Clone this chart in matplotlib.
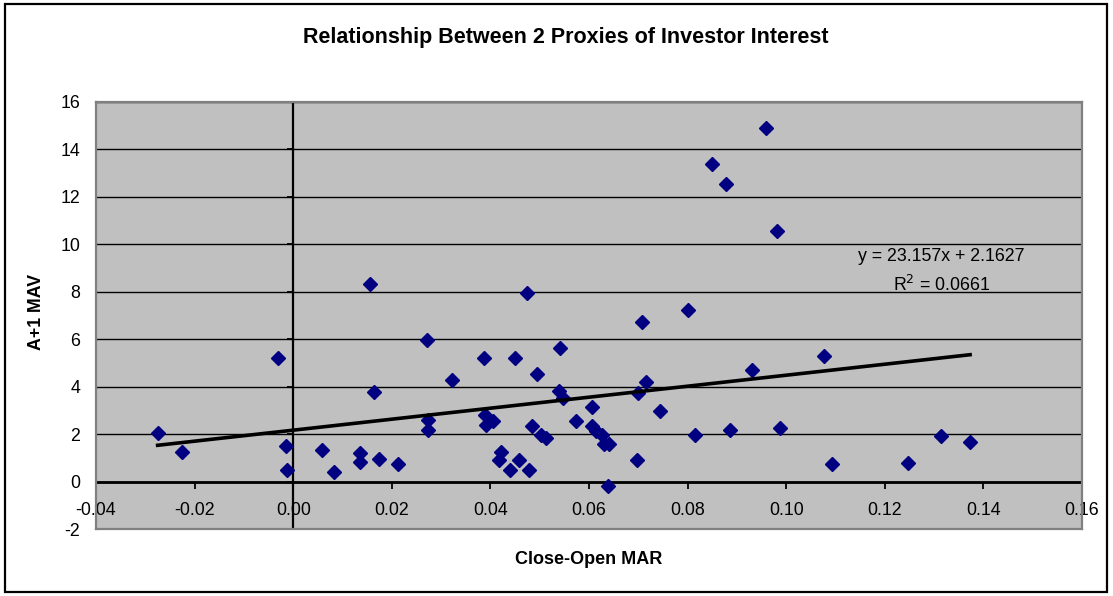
import matplotlib
matplotlib.use('Agg')
import matplotlib.pyplot as plt
from matplotlib.ticker import FormatStrFormatter
from matplotlib.patches import Rectangle

plt.rcParams['font.family'] = ['Liberation Sans', 'DejaVu Sans']
plt.rcParams['axes.unicode_minus'] = False

# close-open MAR vs A+1 MAV
close_open_mar = [
    -0.0275, -0.0226, -0.0031, -0.0015, -0.0013, 0.0058, 0.0083, 0.0135,
    0.0135, 0.0175, 0.0213, 0.0156, 0.0164, 0.0271, 0.0322, 0.0273,
    0.0273, 0.0388, 0.0390, 0.0392, 0.0405, 0.0422, 0.0417, 0.0440,
    0.0457, 0.0478, 0.0449, 0.0474, 0.0494, 0.0484, 0.0503, 0.0513,
    0.0542, 0.0540, 0.0548, 0.0574, 0.0606, 0.0606, 0.0615, 0.0626,
    0.0631, 0.0640, 0.0639, 0.0697, 0.0699, 0.0716, 0.0708, 0.0745,
    0.0801, 0.0814, 0.0849, 0.0878, 0.0887, 0.0960, 0.0981, 0.0931,
    0.0988, 0.1077, 0.1093, 0.1248, 0.1313, 0.1373,
]
a1_mav = [
    2.04, 1.24, 5.22, 1.50, 0.49, 1.33, 0.42, 1.19,
    0.84, 0.94, 0.72, 8.34, 3.78, 5.98, 4.29, 2.60,
    2.18, 5.22, 2.81, 2.39, 2.53, 1.26, 0.91, 0.49,
    0.91, 0.49, 5.22, 7.93, 4.53, 2.35, 1.97, 1.83,
    5.62, 3.82, 3.51, 2.53, 3.12, 2.32, 2.11, 1.97,
    1.59, 1.59, -0.18, 0.91, 3.72, 4.21, 6.74, 2.99,
    7.23, 1.97, 13.38, 12.53, 2.18, 14.91, 10.57, 4.70,
    2.25, 5.29, 0.75, 0.80, 1.92, 1.68,
]

x_ticks = [-0.04, -0.02, 0.0, 0.02, 0.04, 0.06, 0.08, 0.10, 0.12, 0.14, 0.16]
y_ticks = [-2, 0, 2, 4, 6, 8, 10, 12, 14, 16]

# trendline as printed on the chart
slope = 23.157
intercept = 2.1627
r_squared = 0.0661

fig = plt.figure(figsize=(11.13, 5.96), dpi=100)
ax = fig.add_axes([96 / 1113, 1 - 529 / 596, 986 / 1113, 427.3 / 596])
ax.set_facecolor('#C0C0C0')
ax.set_xlim(-0.04, 0.16)
ax.set_ylim(-2, 16)
ax.set_yticks(y_ticks)
ax.set_xticks([])
ax.tick_params(axis='y', length=0, pad=11.5, labelsize=12.8)
ax.yaxis.grid(True, color='black', linewidth=1.0)
ax.set_axisbelow(True)
for sp in ax.spines.values():
    sp.set_color('#808080')
    sp.set_linewidth(1.6)

ax.axhline(0, color='black', linewidth=2.0, zorder=1.5)
ax.axvline(0, color='black', linewidth=1.6, zorder=1.5)

# axis ticks sitting on the zero lines
secx = ax.secondary_xaxis(2 / 18)
secx.set_xticks(x_ticks)
secx.xaxis.set_major_formatter(FormatStrFormatter('%.2f'))
secx.tick_params(direction='out', length=5, width=1.3, pad=10, labelsize=12.8)
for sp in secx.spines.values():
    sp.set_visible(False)

secy = ax.secondary_yaxis(0.2)
secy.set_yticks(y_ticks)
secy.tick_params(direction='out', length=4, width=1.3, labelleft=False)
for sp in secy.spines.values():
    sp.set_visible(False)

ax.plot(close_open_mar, a1_mav, linestyle='none', marker='D', markersize=7.5,
        color='#000080', zorder=3)

x0, x1 = min(close_open_mar), max(close_open_mar)
ax.plot([x0, x1], [slope * x0 + intercept, slope * x1 + intercept],
        color='black', linewidth=2.6, zorder=4)

ax.text(0.1315, 9.46, f'y = {slope}x + {intercept}', ha='center', va='center',
        fontsize=12.8)
ax.text(0.1315, 8.28, f'R$^2$ = {r_squared}', ha='center', va='center',
        fontsize=12.8)

fig.text(566 / 1113, 1 - 38 / 596, 'Relationship Between 2 Proxies of Investor Interest',
         ha='center', va='center', fontsize=15.5, fontweight='bold')
fig.text(589 / 1113, 1 - 560 / 596, 'Close-Open MAR', ha='center', va='center',
         fontsize=13, fontweight='bold')
fig.text(37 / 1113, 1 - 312 / 596, 'A+1 MAV', ha='center', va='center',
         rotation=90, fontsize=12.8, fontweight='bold')

fig.patches.append(Rectangle((5 / 1113, 4 / 596), 1102 / 1113, 588 / 596,
                             transform=fig.transFigure, fill=False,
                             edgecolor='black', linewidth=1.6))

fig.savefig('out.png', dpi=100)
